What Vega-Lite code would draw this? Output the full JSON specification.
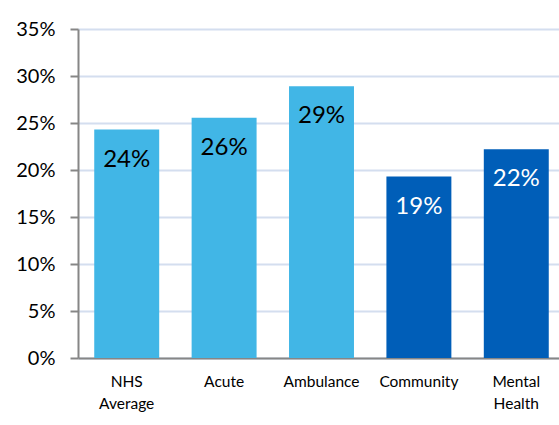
{
  "$schema": "https://vega.github.io/schema/vega-lite/v6.json",
  "width": 481,
  "height": 329,
  "autosize": {"type": "none"},
  "padding": {"left": 78, "top": 29, "right": 0, "bottom": 67},
  "background": "white",
  "config": {"view": {"stroke": null}, "font": "Lato"},
  "data": {
    "values": [
      {"category": "NHS Average", "value": 0.243, "group": "light"},
      {"category": "Acute", "value": 0.2555, "group": "light"},
      {"category": "Ambulance", "value": 0.289, "group": "light"},
      {"category": "Community", "value": 0.193, "group": "dark"},
      {"category": "Mental Health", "value": 0.222, "group": "dark"}
    ]
  },
  "encoding": {
    "x": {
      "field": "category",
      "type": "nominal",
      "sort": null,
      "scale": {"range": [0, 487], "paddingInner": 0.333, "paddingOuter": 0.1667},
      "axis": {
        "title": null,
        "labelAngle": 0,
        "ticks": false,
        "domainColor": "#868686",
        "domainWidth": 2,
        "labelFont": "Lato",
        "labelFontSize": 15.5,
        "labelColor": "#000000",
        "labelPadding": 16,
        "labelLineHeight": 22,
        "labelExpr": "datum.value == 'NHS Average' ? ['NHS', 'Average'] : datum.value == 'Mental Health' ? ['Mental', 'Health'] : datum.value"
      }
    },
    "y": {
      "field": "value",
      "type": "quantitative",
      "scale": {"domain": [0, 0.35], "nice": false},
      "axis": {
        "title": null,
        "values": [0, 0.05, 0.1, 0.15, 0.2, 0.25, 0.3, 0.35],
        "format": ".0%",
        "labelFont": "Lato",
        "labelFontSize": 20,
        "labelColor": "#000000",
        "labelPadding": 15,
        "tickSize": 8,
        "tickColor": "#868686",
        "tickWidth": 2,
        "domainColor": "#868686",
        "domainWidth": 2,
        "gridColor": "#d4deef",
        "gridWidth": 2
      }
    }
  },
  "layer": [
    {
      "mark": {"type": "bar"},
      "encoding": {
        "color": {
          "field": "group",
          "type": "nominal",
          "scale": {"domain": ["light", "dark"], "range": ["#41b6e6", "#005eb8"]},
          "legend": null
        }
      }
    },
    {
      "mark": {"type": "text", "dy": 30, "fontSize": 24, "font": "Lato"},
      "encoding": {
        "text": {"field": "value", "type": "quantitative", "format": ".0%"},
        "color": {"condition": {"test": "datum.group == 'dark'", "value": "white"}, "value": "black"}
      }
    }
  ]
}
